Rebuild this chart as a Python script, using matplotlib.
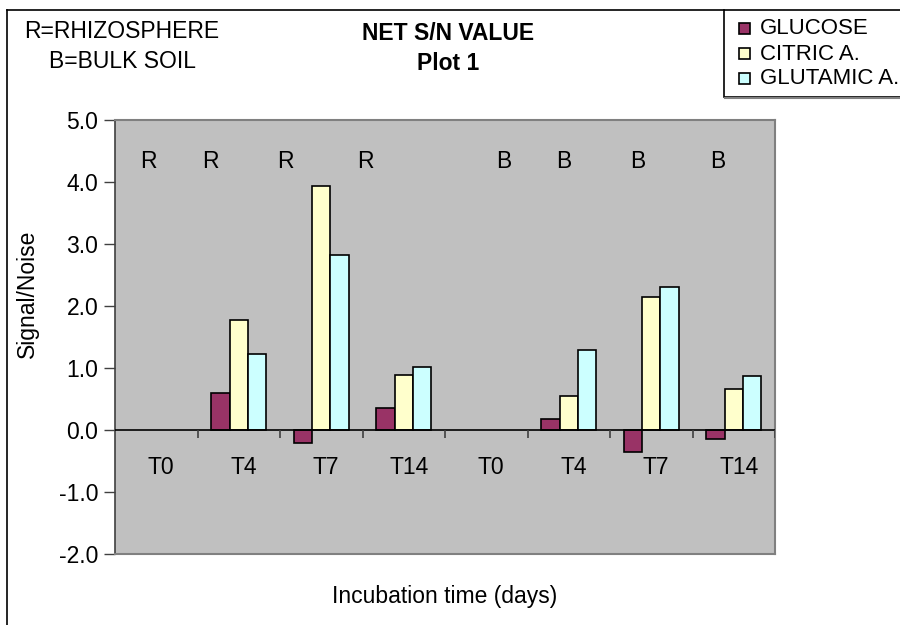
import numpy as np
import matplotlib
matplotlib.use("Agg")
from matplotlib import pyplot as plt
from matplotlib.lines import Line2D
from matplotlib.patches import Rectangle

plt.rcParams['font.family'] = ['Liberation Sans', 'DejaVu Sans']

# data
categories = ['T0', 'T4', 'T7', 'T14', 'T0', 'T4', 'T7', 'T14']
series_names = ['GLUCOSE', 'CITRIC A.', 'GLUTAMIC A.']
glucose = [0.0, 0.60, -0.21, 0.36, 0.0, 0.18, -0.35, -0.14]
citric = [0.0, 1.77, 3.93, 0.89, 0.0, 0.55, 2.14, 0.66]
glutamic = [0.0, 1.23, 2.83, 1.02, 0.0, 1.29, 2.30, 0.87]
soil_marks = ['R', 'R', 'R', 'R', 'B', 'B', 'B', 'B']
y_ticks = [-2.0, -1.0, 0.0, 1.0, 2.0, 3.0, 4.0, 5.0]

colors = ['#993366', '#FFFFCC', '#CCFFFF']
W, H = 900, 625
fs = 16.5


def fx(px):
    return px / W


def fy(py):
    return 1 - py / H


fig = plt.figure(figsize=(9, 6.25), dpi=100)
ax = fig.add_axes([fx(115), fy(554), 660 / W, 434 / H])
ax.set_facecolor('#C0C0C0')

x = np.arange(len(categories))
bw = 1 / 4.5
for k, (vals, c) in enumerate(zip([glucose, citric, glutamic], colors)):
    v = np.array(vals)
    nz = v != 0
    ax.bar(x[nz] + (k - 1) * bw, v[nz], width=bw, color=c, edgecolor='black',
           linewidth=1.2, zorder=3)

ax.set_xlim(-0.5, len(categories) - 0.5)
ax.set_ylim(-2, 5)
ax.set_yticks(y_ticks)
ax.set_yticklabels(['%.1f' % v for v in y_ticks], fontsize=fs)
ax.tick_params(axis='y', direction='out', length=8, width=1, color='#404040', pad=4)
ax.set_xticks([])

for s in ['top', 'right', 'bottom']:
    ax.spines[s].set_color('#808080')
    ax.spines[s].set_linewidth(1.5)
ax.spines['left'].set_color('#404040')
ax.spines['left'].set_linewidth(1.2)

# zero line with category ticks
ax.axhline(0, color='black', linewidth=1.2, zorder=4)
ax.vlines(np.arange(len(categories)) + 0.5, -0.13, 0, color='#404040', linewidth=1.2, zorder=4)

# category labels
for i, lab in enumerate(categories):
    ax.text(i + 0.06, -0.6, lab, ha='center', va='center', fontsize=fs)

# R / B marks
mark_x = [-0.09, 0.66, 1.56, 2.54, 4.21, 4.94, 5.84, 6.80]
for mx, m in zip(mark_x, soil_marks):
    ax.text(mx, 4.33, m, ha='center', va='center', fontsize=fs)

# titles and notes
fig.text(fx(448), fy(33), 'NET S/N VALUE', ha='center', va='center',
         fontsize=fs, fontweight='bold')
fig.text(fx(448), fy(63), 'Plot 1', ha='center', va='center',
         fontsize=fs, fontweight='bold')
fig.text(fx(24), fy(31), 'R=RHIZOSPHERE', ha='left', va='center', fontsize=fs)
fig.text(fx(49), fy(62), 'B=BULK SOIL', ha='left', va='center', fontsize=fs)
fig.text(fx(27), fy(294), 'Signal/Noise', ha='center', va='center',
         rotation=90, fontsize=fs)
fig.text(fx(445), fy(597), 'Incubation time (days)', ha='center', va='center',
         fontsize=fs)

# outer chart frame
fig.add_artist(Line2D([fx(7), fx(7)], [0, fy(10)], transform=fig.transFigure,
                      color='black', linewidth=1.2))
fig.add_artist(Line2D([fx(7), fx(724)], [fy(10), fy(10)],
                      transform=fig.transFigure, color='black', linewidth=1.2))

# legend box
fig.add_artist(Rectangle((fx(724), fy(97)), fx(200), 87 / H, transform=fig.transFigure,
                         facecolor='white', edgecolor='black', linewidth=1.2))
fig.add_artist(Line2D([fx(725), fx(900)], [fy(97.5), fy(97.5)], transform=fig.transFigure,
                      color='#808080', linewidth=1.5))
for k, (name, c) in enumerate(zip(series_names, colors)):
    cy = 28 + 25 * k
    fig.add_artist(Rectangle((fx(739), fy(cy + 5.5)), 11 / W, 11 / H,
                             transform=fig.transFigure, facecolor=c,
                             edgecolor='black', linewidth=1.2))
    fig.text(fx(760), fy(cy + 1), name, ha='left', va='center', fontsize=16)

fig.savefig('out.png', dpi=100)
